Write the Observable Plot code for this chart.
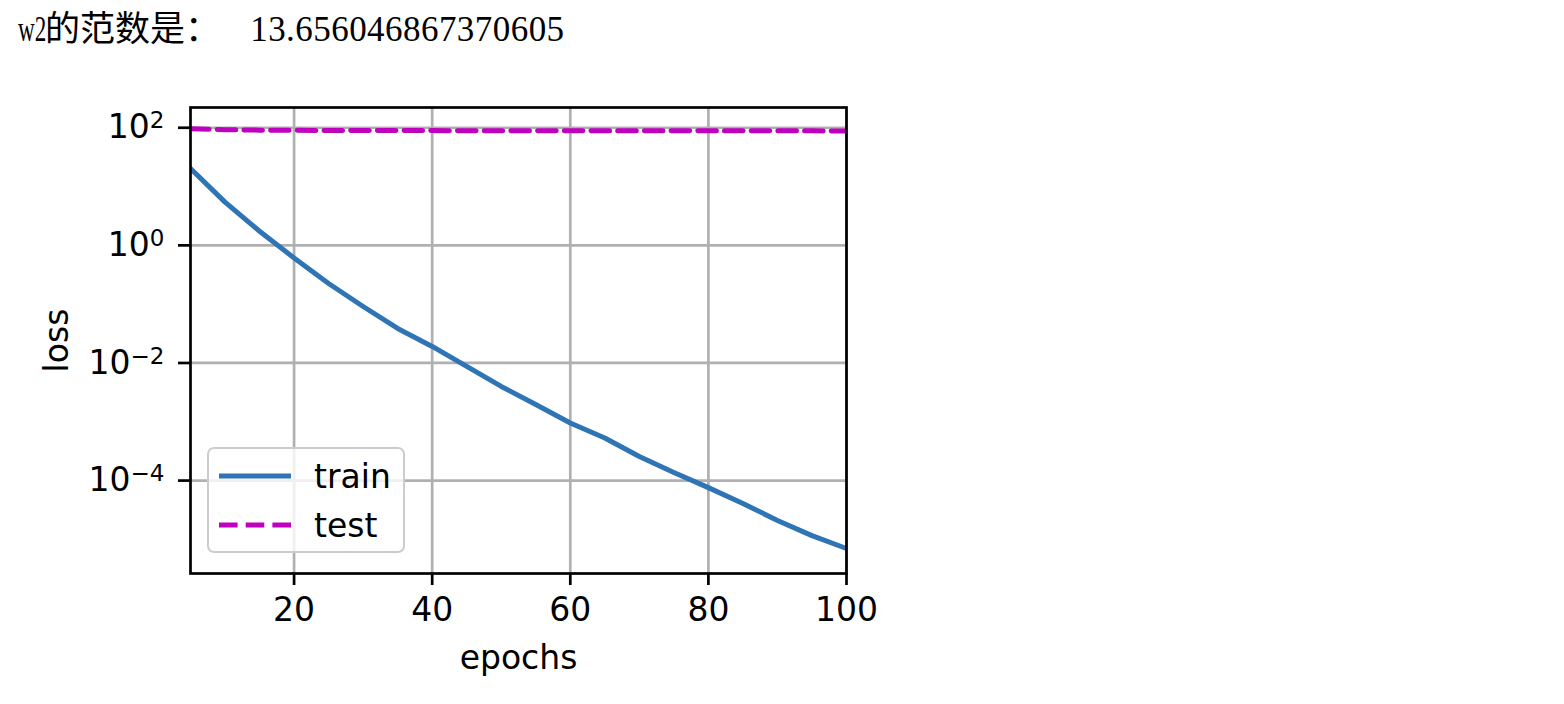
<!DOCTYPE html>
<html><head><meta charset="utf-8">
<script src="https://cdn.jsdelivr.net/npm/d3@7"></script>
<script src="https://cdn.jsdelivr.net/npm/@observablehq/plot@0.6"></script>
<style>
body{margin:0;background:#fff;width:1564px;height:704px;overflow:hidden;position:relative;}
#title{position:absolute;left:0;top:0;height:64px;width:700px;font-family:"Liberation Serif","Noto Sans CJK SC",serif;font-size:35px;white-space:pre;color:#000;}
#title span{position:absolute;top:9px;line-height:42px;}
#chart{position:absolute;left:0;top:64px;}
#legend{position:absolute;left:207px;top:447px;width:194px;height:102px;border:2.7px solid #cccccc;border-radius:7px;background:rgba(255,255,255,0.8);font-family:"DejaVu Sans",sans-serif;font-size:33px;}
#legend .row{position:absolute;left:0;height:40px;display:flex;align-items:center;}
#legend svg{margin-left:10px;}
#legend span{margin-left:23px;}
</style></head><body>
<div id="title"></div>
<div id="chart"></div>
<div id="legend"></div>
<script>
const titleParts = ["w2", "的范数是：", " 13.656046867370605"];
const titleLefts = [18, 45, 241];
const epochs = [5,10,15,20,25,30,35,40,45,50,55,60,65,70,75,80,85,90,95,100];
const trainLoss = [20.3,5.43,1.74,0.611,0.225,0.0914,0.0386,0.0191,0.00873,0.00399,0.00197,0.000954,0.00053,0.000257,0.000137,0.000076,0.0000408,0.000021,0.0000116,0.0000070];
const testLoss = [96,92.5,91,90.5,90,89.8,89.6,89.4,89.2,89.1,89,88.9,88.8,88.8,88.7,88.6,88.6,88.5,88.5,88.4];
const seriesNames = ["train","test"];
const seriesColors = ["#2f74b5","#bf00bf"];
const xTicks = [20,40,60,80,100];
const yTicks = [1e2,1e0,1e-2,1e-4];
const yTickBase = "10";
const yTickExps = ["2","0","−2","−4"];
const xLabel = "epochs";
const yLabel = "loss";

const titleEl = document.getElementById("title");
titleParts.forEach((t,i)=>{
  const s = document.createElement("span");
  s.textContent = t;
  s.style.left = titleLefts[i] + "px";
  if (i===0) { s.style.transform = "scaleX(0.66)"; s.style.transformOrigin = "left center"; }
  if (i===2) s.style.letterSpacing = "0.45px";
  titleEl.appendChild(s);
});

const rows = [];
epochs.forEach((e,i)=>{ rows.push({epoch:e, loss:trainLoss[i], series:seriesNames[0]}); });
epochs.forEach((e,i)=>{ rows.push({epoch:e, loss:testLoss[i], series:seriesNames[1]}); });

const chart = Plot.plot({
  width: 900,
  height: 620,
  marginTop: 43,
  marginLeft: 190,
  marginRight: 54,
  marginBottom: 111,
  style: {fontSize: "33px", fontFamily: "DejaVu Sans, sans-serif", color: "#000", background: "#fff"},
  x: {domain: [5, 100]},
  y: {type: "log", domain: [2.63e-6, 221]},
  marks: [
    Plot.gridX(xTicks, {stroke: "#b0b0b0", strokeOpacity: 1, strokeWidth: 2.7}),
    Plot.gridY(yTicks, {stroke: "#b0b0b0", strokeOpacity: 1, strokeWidth: 2.7}),
    Plot.line(rows.filter(d=>d.series===seriesNames[0]), {x:"epoch", y:"loss", stroke: seriesColors[0], strokeWidth: 5, clip: true}),
    Plot.line(rows.filter(d=>d.series===seriesNames[1]), {x:"epoch", y:"loss", stroke: seriesColors[1], strokeWidth: 5, strokeDasharray: "18.6,8.1", clip: true}),
    Plot.axisX(xTicks, {tickSize: 12, tickPadding: 12, strokeWidth: 2.7, label: null}),
    Plot.axisY(yTicks, {tickSize: 12, tickPadding: 14, strokeWidth: 2.7, label: null, tickFormat: d => yTickBase + yTickExps[yTicks.indexOf(d)]}),
    Plot.frame({stroke: "#000", strokeWidth: 2.7}),
    Plot.text([xLabel], {frameAnchor: "bottom", dy: 95, fontSize: 33}),
    Plot.text([yLabel], {frameAnchor: "left", dx: -133, rotate: -90, fontSize: 33, textAnchor: "middle"})
  ]
});
document.getElementById("chart").appendChild(chart);

// superscript exponents on y tick labels
chart.querySelectorAll('g[aria-label="y-axis tick label"] text').forEach(t => {
  const full = t.textContent;
  const exp = full.slice(yTickBase.length);
  t.textContent = "";
  const b = document.createElementNS("http://www.w3.org/2000/svg","tspan");
  b.textContent = yTickBase;
  const s = document.createElementNS("http://www.w3.org/2000/svg","tspan");
  s.textContent = exp;
  s.setAttribute("font-size", "23px");
  s.setAttribute("dy", "-10");
  t.appendChild(b); t.appendChild(s);
});

const leg = document.getElementById("legend");
seriesNames.forEach((name,i)=>{
  const row = document.createElement("div");
  row.className = "row";
  row.style.top = (i===0 ? 7 : 56) + "px";
  const dash = i===1 ? 'stroke-dasharray="18.6,8.1"' : '';
  row.innerHTML = `<svg width="72" height="10"><line x1="0" x2="72" y1="5" y2="5" stroke="${seriesColors[i]}" stroke-width="5" ${dash}/></svg><span>${name}</span>`;
  leg.appendChild(row);
});
</script>
</body></html>
